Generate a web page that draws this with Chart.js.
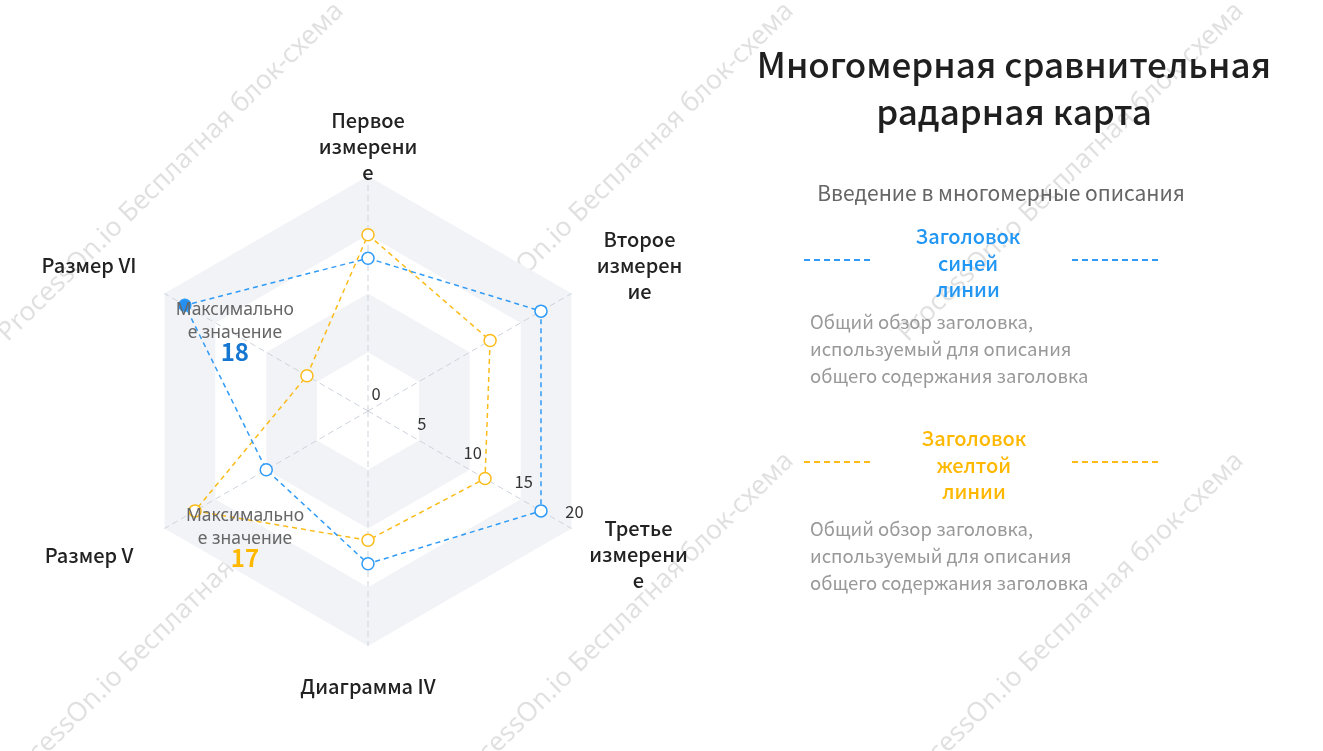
<!DOCTYPE html>
<html lang="ru">
<head>
<meta charset="utf-8">
<title>Многомерная сравнительная радарная карта</title>
<script src="https://cdn.jsdelivr.net/npm/chart.js@4.4.1/dist/chart.umd.min.js"></script>
<style>
  html, body { margin: 0; padding: 0; background: #fff; }
  body {
    width: 1323px; height: 751px; position: relative; overflow: hidden;
    font-family: "Noto Sans CJK SC", "Noto Sans", sans-serif;
  }
  #mark { position: absolute; left: 0; top: 0; z-index: 0; }
  #chartBox { position: absolute; left: 0; top: 0; width: 740px; height: 751px; z-index: 1; }
  .title, .sub, .legTitle, .dash, .desc { z-index: 2; }
  .title {
    position: absolute; left: 714px; width: 600px; top: 39px;
    text-align: center; font-size: 35px; font-weight: 500; line-height: 47px; color: #1f1f1f;
  }
  .sub {
    position: absolute; left: 801px; width: 400px; top: 178px;
    text-align: center; font-size: 21px; line-height: 28px; color: #666;
  }
  .legTitle {
    position: absolute; width: 200px; text-align: center;
    font-size: 20px; font-weight: 500; line-height: 26.5px;
  }
  .dash { position: absolute; height: 1.5px; }
  .desc {
    position: absolute; left: 810px; font-size: 18.5px; line-height: 27px; color: #999;
  }
</style>
</head>
<body>
<canvas id="mark" width="1323" height="751"></canvas>
<div id="chartBox"><canvas id="radar"></canvas></div>

<div class="title">Многомерная сравнительная<br>радарная карта</div>
<div class="sub">Введение в многомерные описания</div>

<div class="dash" id="blueDashL" style="left:804px; top:259px; width:70px;"></div>
<div class="dash" id="blueDashR" style="left:1072px; top:259px; width:86px;"></div>
<div class="legTitle" id="blueTitle" style="left:868px; top:223px;"></div>
<div class="desc" style="top:308px;">Общий обзор заголовка,<br>используемый для описания<br>общего содержания заголовка</div>

<div class="dash" id="yellowDashL" style="left:804px; top:461px; width:70px;"></div>
<div class="dash" id="yellowDashR" style="left:1072px; top:461px; width:86px;"></div>
<div class="legTitle" id="yellowTitle" style="left:874px; top:425px;"></div>
<div class="desc" style="top:515px;">Общий обзор заголовка,<br>используемый для описания<br>общего содержания заголовка</div>

<script>
// axis names, wrapped as in the original template
const categories = [
  ['Первое', 'измерени', 'е'],
  ['Второе', 'измерен', 'ие'],
  ['Третье', 'измерени', 'е'],
  ['Диаграмма IV'],
  ['Размер V'],
  ['Размер VI']
];
const blueValues = [13, 17, 17, 13, 10, 18];
const yellowValues = [15, 12, 11.5, 11, 17, 6];
const tickValues = [0, 5, 10, 15, 20];
const seriesTitles = [['Заголовок', 'синей', 'линии'], ['Заголовок', 'желтой', 'линии']];
const maxCaption = ['Максимально', 'е значение'];

const BLUE = '#2f9bf7';
const YELLOW = '#fbbc1a';
const BAND = '#f2f3f7';
const FONT = '"Noto Sans CJK SC", "Noto Sans", sans-serif';

// legend on the right
document.getElementById('blueTitle').innerHTML = seriesTitles[0].join('<br>');
document.getElementById('blueTitle').style.color = '#2196f3';
document.getElementById('yellowTitle').innerHTML = seriesTitles[1].join('<br>');
document.getElementById('yellowTitle').style.color = '#ffb800';
function dashBg(c) {
  return 'repeating-linear-gradient(to right, ' + c + ' 0 6px, transparent 6px 10px)';
}
['blueDashL', 'blueDashR'].forEach(id => document.getElementById(id).style.background = dashBg(BLUE));
['yellowDashL', 'yellowDashR'].forEach(id => document.getElementById(id).style.background = dashBg(YELLOW));

// label placement around the outer vertices
const labelPlace = [
  { dx: 0, dy: -4, align: 'center', anchor: 'bottom' },
  { dx: 68, dy: -28, align: 'center', anchor: 'middle' },
  { dx: 67, dy: 26, align: 'center', anchor: 'middle' },
  { dx: 0, dy: 40, align: 'center', anchor: 'middle' },
  { dx: -31, dy: 27, align: 'right', anchor: 'middle' },
  { dx: -28, dy: -28, align: 'right', anchor: 'middle' }
];

const radarDecor = {
  id: 'radarDecor',
  beforeDraw(chart) {
    // alternating hexagon bands
    const r = chart.scales.r;
    const ctx = chart.ctx;
    const n = chart.data.labels.length;
    const levels = tickValues.slice(1).reverse();
    ctx.save();
    levels.forEach((v, k) => {
      ctx.beginPath();
      for (let i = 0; i < n; i++) {
        const p = r.getPointPositionForValue(i, v);
        if (i === 0) ctx.moveTo(p.x, p.y); else ctx.lineTo(p.x, p.y);
      }
      ctx.closePath();
      ctx.fillStyle = k % 2 === 0 ? BAND : '#ffffff';
      ctx.fill();
    });
    ctx.restore();
  },
  afterDraw(chart) {
    const r = chart.scales.r;
    const ctx = chart.ctx;
    ctx.save();
    ctx.textBaseline = 'middle';

    // axis names
    ctx.font = '500 20px ' + FONT;
    ctx.fillStyle = '#222';
    const lh = 26;
    chart.data.labels.forEach((lines, i) => {
      const v = r.getPointPosition(i, r.drawingArea);
      const pl = labelPlace[i];
      ctx.textAlign = pl.align;
      const x = v.x + pl.dx;
      let y0;
      if (pl.anchor === 'bottom') y0 = v.y + pl.dy - (lines.length - 1) * lh;
      else y0 = v.y + pl.dy - (lines.length - 1) * lh / 2;
      lines.forEach((t, j) => ctx.fillText(t, x, y0 + j * lh));
    });

    // tick values along the lower-right spoke
    ctx.font = '16.5px ' + FONT;
    ctx.fillStyle = '#333';
    ctx.textAlign = 'center';
    tickValues.forEach(t => {
      const p = r.getPointPositionForValue(2, t);
      ctx.fillText(String(t), p.x + (t === 0 ? 8 : 3), p.y - 17);
    });

    // max value captions
    const numColors = ['#1677d2', '#ffb800'];
    chart.data.datasets.forEach((ds, di) => {
      const vals = ds.data;
      const idx = vals.indexOf(Math.max(...vals));
      const el = chart.getDatasetMeta(di).data[idx];
      const x = el.x + 50;
      ctx.font = '17.5px "Noto Sans", sans-serif';
      ctx.fillStyle = '#666';
      ctx.fillText(maxCaption[0], x, el.y + 5);
      ctx.fillText(maxCaption[1], x, el.y + 28);
      ctx.font = 'bold 24px ' + FONT;
      ctx.fillStyle = numColors[di];
      ctx.fillText(String(vals[idx]), x, el.y + 47);
    });
    ctx.restore();
  }
};

function pointFills(values, color) {
  const m = Math.max(...values);
  return values.map(v => v === m ? color : '#ffffff');
}

new Chart(document.getElementById('radar'), {
  type: 'radar',
  data: {
    labels: categories,
    datasets: [
      {
        label: seriesTitles[0].join(' '),
        data: blueValues,
        borderColor: BLUE,
        borderWidth: 1.5,
        borderDash: [5, 4],
        fill: false,
        pointRadius: 6,
        pointBorderWidth: 1.5,
        pointBorderColor: BLUE,
        pointBackgroundColor: pointFills(blueValues, '#2590f0')
      },
      {
        label: seriesTitles[1].join(' '),
        data: yellowValues,
        borderColor: YELLOW,
        borderWidth: 1.5,
        borderDash: [5, 4],
        fill: false,
        pointRadius: 6,
        pointBorderWidth: 1.5,
        pointBorderColor: YELLOW,
        pointBackgroundColor: '#ffffff'
      }
    ]
  },
  options: {
    responsive: true,
    maintainAspectRatio: false,
    animation: false,
    layout: { padding: { left: 133, right: 137, top: 176, bottom: 105 } },
    plugins: { legend: { display: false }, tooltip: { enabled: false } },
    scales: {
      r: {
        min: tickValues[0],
        max: tickValues[tickValues.length - 1],
        ticks: { stepSize: tickValues[1] - tickValues[0], display: false },
        grid: { display: false },
        angleLines: { display: true, color: '#cdd3dc', lineWidth: 1, borderDash: [6, 4] },
        pointLabels: { display: false }
      }
    }
  },
  plugins: [radarDecor]
});

// watermark tiles, under the chart
(function () {
  const c = document.getElementById('mark');
  const ctx = c.getContext('2d');
  const text = 'ProcessOn.io Бесплатная блок-схема';
  let size = 24;
  ctx.font = size + 'px "Noto Sans", sans-serif';
  size = size * 472 / ctx.measureText(text).width;
  ctx.font = size + 'px "Noto Sans", sans-serif';
  ctx.fillStyle = 'rgba(0,0,0,0.12)';
  ctx.textAlign = 'center';
  ctx.textBaseline = 'middle';
  [0, 450, 900].forEach(tx => {
    [0, 450].forEach(ty => {
      ctx.save();
      ctx.translate(tx + 171, ty + 172);
      ctx.rotate(-44.4 * Math.PI / 180);
      ctx.fillText(text, 0, 0);
      ctx.restore();
    });
  });
})();
</script>
</body>
</html>
